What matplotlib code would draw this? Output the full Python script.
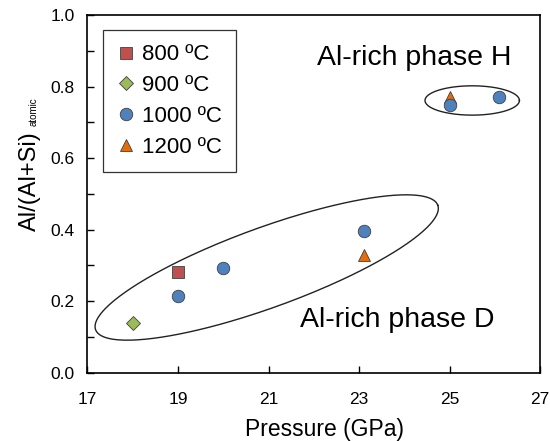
import numpy as np
import matplotlib
matplotlib.use("Agg")
import matplotlib.pyplot as plt

plt.rcParams['font.family'] = ['Liberation Sans', 'DejaVu Sans']

# data
p_800 = [19.0]
r_800 = [0.281]
p_900 = [18.0]
r_900 = [0.139]
p_1000 = [19.0, 20.0, 23.1, 25.0, 26.1]
r_1000 = [0.214, 0.292, 0.397, 0.747, 0.77]
p_1200 = [23.1, 25.0]
r_1200 = [0.33, 0.771]

labels = ['800 ºC', '900 ºC', '1000 ºC', '1200 ºC']

fig = plt.figure(figsize=(5.5, 4.41), dpi=100)
ax = fig.add_axes([0.159, 0.155, 0.823, 0.811])

ec = '#404040'
ax.plot(p_800, r_800, 's', ms=8.3, mfc='#C0504D', mec=ec, mew=0.6, label=labels[0], zorder=3)
ax.plot(p_900, r_900, 'D', ms=7.2, mfc='#9BBB59', mec=ec, mew=0.6, label=labels[1], zorder=3)
ax.plot(p_1000, r_1000, 'o', ms=9, mfc='#4F81BD', mec=ec, mew=0.6, label=labels[2], zorder=4)
ax.plot(p_1200, r_1200, '^', ms=9, mfc='#E46C0A', mec=ec, mew=0.6, label=labels[3], zorder=3)

# ellipses (centre, two semi-axis vectors in data units)
def ellipse(c, u, v):
    t = np.linspace(0, 2 * np.pi, 300)
    x = c[0] + u[0] * np.cos(t) + v[0] * np.sin(t)
    y = c[1] + u[1] * np.cos(t) + v[1] * np.sin(t)
    ax.plot(x, y, color='#222222', lw=1.0, zorder=2)

ellipse((20.96, 0.294), (3.78, 0.174), (-0.302, 0.105))
ellipse((25.50, 0.761), (1.043, 0.0), (0.0, 0.041))

ax.text(24.23, 0.860, 'Al-rich phase H', fontsize=20.5, ha='center', va='baseline')
ax.text(23.85, 0.127, 'Al-rich phase D', fontsize=20.5, ha='center', va='baseline')

ax.set_xlim(17, 27)
ax.set_ylim(0, 1.0)
ax.set_xticks([17, 19, 21, 23, 25, 27])
ax.set_yticks(np.arange(0, 1.01, 0.2))
ax.set_yticks(np.arange(0, 1.01, 0.1), minor=True)
ax.set_yticklabels(['%.1f' % v for v in np.arange(0, 1.01, 0.2)])
ax.tick_params(direction='in', labelsize=12.5, length=5, width=1)
ax.tick_params(axis='x', pad=14)
ax.tick_params(axis='y', pad=9)
ax.tick_params(which='minor', direction='in', length=5, width=1)
for s in ax.spines.values():
    s.set_linewidth(1.2)

ax.set_xlabel('Pressure (GPa)', fontsize=16.5, va='top')
ax.xaxis.set_label_coords(0.524, -0.128)

# y label: main part plus small subscript
ax.text(-0.128, 0.536, 'Al/(Al+Si)', fontsize=17, rotation=90,
        ha='center', va='center', transform=ax.transAxes)
ax.text(-0.118, 0.731, 'atomic', fontsize=7, rotation=90,
        ha='center', va='center', transform=ax.transAxes)

leg = ax.legend(loc='upper left', bbox_to_anchor=(0.034, 0.958), fontsize=16,
                fancybox=False, edgecolor='#333333', framealpha=1,
                handletextpad=0.3, labelspacing=0.44, borderpad=0.65,
                handlelength=0.8, numpoints=1, borderaxespad=0)
leg.get_frame().set_linewidth(0.9)

fig.savefig('out.png', dpi=100)
